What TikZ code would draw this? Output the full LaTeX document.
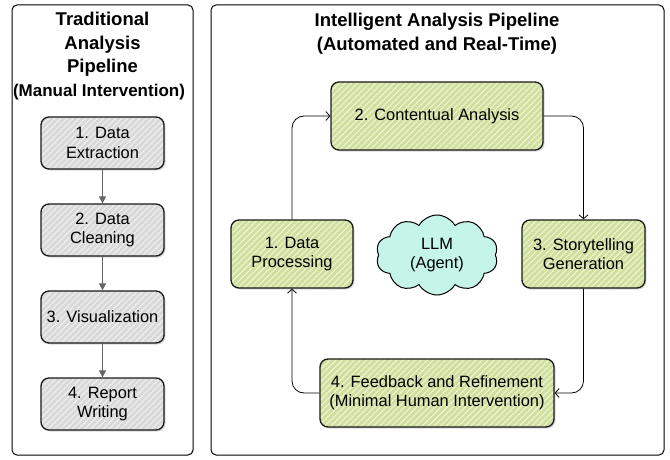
\documentclass[tikz,border=0pt]{standalone}
\usepackage{fontspec}
\setmainfont{Liberation Sans}
\usetikzlibrary{positioning}
\usetikzlibrary{shapes.symbols,shadows,patterns.meta,arrows.meta}
\definecolor{boxgreen}{HTML}{D0DF9C}
\definecolor{stripegreen}{HTML}{EEF4D8}
\definecolor{boxgray}{HTML}{D9D9D9}
\definecolor{stripegray}{HTML}{F0F0F0}
\definecolor{cloudcyan}{HTML}{C4F5E8}
\definecolor{arrowgray}{HTML}{666666}

\begin{document}
\begin{tikzpicture}[x=1pt,y=1pt,node distance=87pt,on grid,
  panel/.style={draw=black,line width=1pt,rounded corners=5pt},
  heading/.style={font=\fontsize{18.5}{23.5}\selectfont\bfseries,align=center,inner sep=0pt},
  stage/.style={rectangle,rounded corners=8pt,draw=black!90,line width=1.3pt,align=center,
    font=\fontsize{16.4}{19.5}\selectfont,
    drop shadow={shadow xshift=1.5pt,shadow yshift=-1.5pt,opacity=0.3}},
  manual/.style={stage,minimum width=123pt,minimum height=52pt,preaction={fill=boxgray},
    pattern={Lines[angle=45,distance=4.3pt,line width=1.1pt]},pattern color=stripegray},
  smart/.style={stage,minimum height=68pt,preaction={fill=boxgreen},
    pattern={Lines[angle=45,distance=4.3pt,line width=1.1pt]},pattern color=stripegreen},
  down/.style={draw=arrowgray,line width=1.2pt,-{Triangle[length=7pt,width=7pt]}},
  flow/.style={draw=black,line width=0.8pt,rounded corners=12pt,-{Straight Barb[length=4pt,width=9pt]}}]
  \useasboundingbox (0,0) rectangle (670,459);

  \draw[panel] (12,4) rectangle (193,454);
  \draw[panel] (211,4) rectangle (664,454);

  \node[heading] (ltitle) at (102.5,414.5) {Traditional\\Analysis\\Pipeline};
  \node[heading,font=\fontsize{17}{20}\selectfont\bfseries] (lsub) at (99,367) {(Manual Intervention)};
  \node[manual] (t1) at (102.5,316) {1. Data\\Extraction};
  \node[manual] (t2) [below=of t1] {2. Data\\Cleaning};
  \node[manual] (t3) [below=of t2] {3. Visualization};
  \node[manual] (t4) [below=of t3] {4. Report\\Writing};
  \draw[down] (t1) -- (t2);
  \draw[down] (t2) -- (t3);
  \draw[down] (t3) -- (t4);

  \node[heading] (rtitle) at (437,425.5) {Intelligent Analysis Pipeline\\(Automated and Real-Time)};
  \node[smart,minimum width=212pt] (p2) at (437,343) {2. Contentual Analysis};
  \node[smart,minimum width=122pt] (p1) [below left=138pt and 145pt of p2] {1. Data\\Processing};
  \node[smart,minimum width=123pt] (p3) [below right=138pt and 146.5pt of p2] {3. Storytelling\\Generation};
  \node[smart,minimum width=234pt] (p4) [below=277pt of p2] {4. Feedback and Refinement\\(Minimal Human Intervention)};
  \node[cloud,cloud puffs=10,cloud puff arc=120,aspect=1.5,minimum width=122pt,minimum height=80pt,
    draw=black,line width=1pt,fill=cloudcyan,align=center,font=\fontsize{16.4}{19.5}\selectfont]
    (llm) [below=139pt of p2] {LLM\\(Agent)};
  \draw[flow] (p1.north) |- (p2.west);
  \draw[flow] (p2.east) -| (p3.north);
  \draw[flow] (p3.south) |- (p4.east);
  \draw[flow] (p4.west) -| (p1.south);
\end{tikzpicture}
\end{document}
